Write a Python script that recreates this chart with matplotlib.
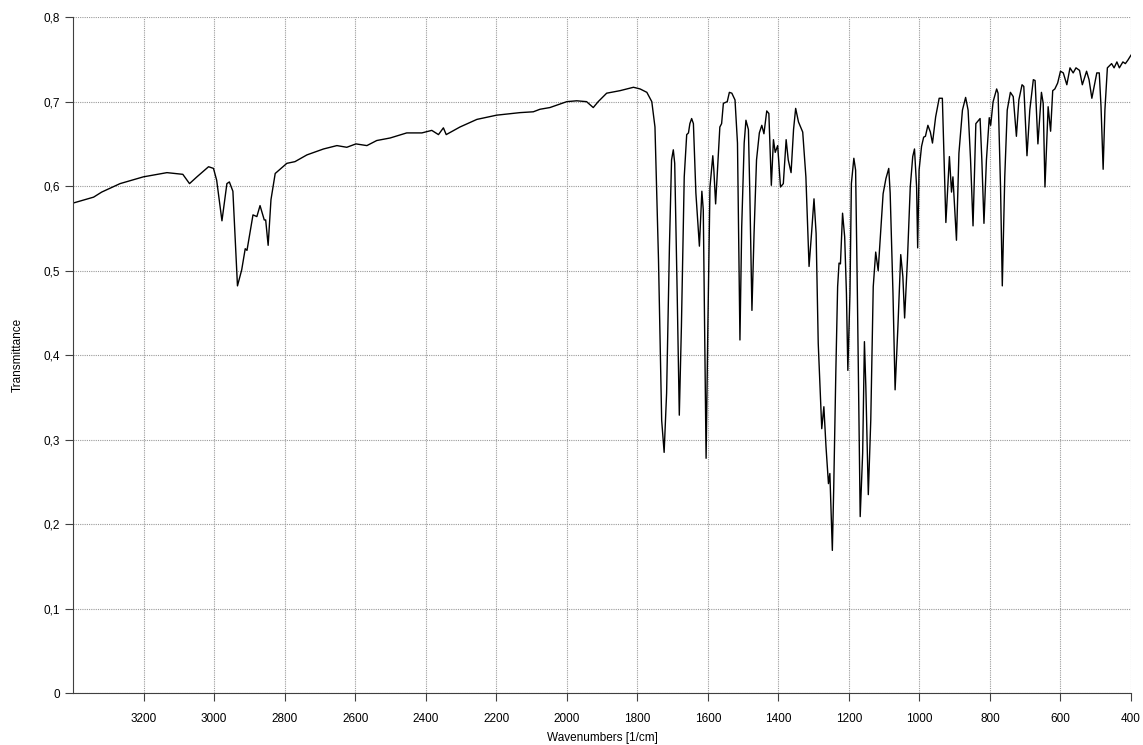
import matplotlib
matplotlib.use("Agg")
import matplotlib.pyplot as plt
from matplotlib.ticker import FuncFormatter

plt.rcParams['font.family'] = ['Liberation Sans', 'DejaVu Sans']

# spectrum (wavenumber [1/cm], transmittance)
wavenumber = [
    3400, 3342, 3319, 3267, 3201, 3134, 3089, 3070, 3049, 3016, 3002, 2993,
    2978, 2964, 2957, 2947, 2934, 2922, 2912, 2907, 2890, 2879, 2870, 2858,
    2854, 2847, 2839, 2827, 2794, 2771, 2737, 2690, 2652, 2624, 2598, 2567,
    2539, 2501, 2454, 2411, 2383, 2364, 2350, 2342, 2303, 2255, 2199, 2133,
    2095, 2076, 2048, 2000, 1972, 1944, 1925, 1911, 1887, 1849, 1811, 1792,
    1773, 1759, 1750, 1740, 1731, 1724, 1717, 1709, 1703, 1698, 1694, 1687,
    1681, 1675, 1667, 1660, 1655, 1651, 1646, 1641, 1634, 1624, 1617, 1613,
    1608, 1605, 1600, 1594, 1586, 1583, 1578, 1571, 1566, 1561, 1556, 1545,
    1539, 1532, 1523, 1516, 1509, 1504, 1497, 1492, 1485, 1481, 1475, 1469,
    1462, 1454, 1447, 1441, 1433, 1427, 1420, 1414, 1409, 1402, 1394, 1386,
    1378, 1372, 1364, 1357, 1351, 1343, 1331, 1322, 1313, 1306, 1299, 1293,
    1287, 1277, 1271, 1265, 1258, 1254, 1252, 1247, 1243, 1237, 1232, 1228,
    1224, 1218, 1212, 1207, 1203, 1197, 1193, 1186, 1181, 1176, 1168, 1161,
    1156, 1152, 1145, 1138, 1131, 1124, 1117, 1103, 1095, 1087, 1083, 1075,
    1069, 1061, 1053, 1047, 1042, 1034, 1026, 1019, 1014, 1008, 1005, 1001,
    994, 988, 983, 976, 969, 963, 954, 944, 935, 930, 925, 915, 909, 905,
    895, 888, 878, 869, 862, 855, 848, 840, 828, 823, 817, 810, 802, 798,
    791, 781, 777, 770, 765, 758, 751, 742, 734, 725, 718, 709, 704, 695,
    687, 677, 672, 664, 654, 649, 644, 635, 628, 622, 616, 608, 600, 592,
    582, 573, 564, 556, 546, 538, 526, 519, 511, 497, 490, 485, 479, 474,
    467, 455, 448, 440, 433, 423, 416, 409, 400,
]
transmittance = [
    0.580, 0.587, 0.593, 0.603, 0.611, 0.616, 0.614, 0.603, 0.611, 0.623, 0.621, 0.607,
    0.559, 0.603, 0.605, 0.594, 0.482, 0.501, 0.526, 0.524, 0.566, 0.564, 0.577, 0.560,
    0.560, 0.530, 0.584, 0.615, 0.627, 0.629, 0.637, 0.644, 0.648, 0.646, 0.650, 0.648,
    0.654, 0.657, 0.663, 0.663, 0.666, 0.661, 0.669, 0.661, 0.670, 0.679, 0.684, 0.687,
    0.688, 0.691, 0.693, 0.700, 0.701, 0.700, 0.693, 0.700, 0.710, 0.713, 0.717, 0.715,
    0.711, 0.700, 0.670, 0.513, 0.323, 0.285, 0.355, 0.528, 0.631, 0.643, 0.627, 0.473,
    0.329, 0.434, 0.611, 0.661, 0.663, 0.674, 0.680, 0.674, 0.592, 0.529, 0.594, 0.572,
    0.394, 0.278, 0.434, 0.599, 0.636, 0.619, 0.579, 0.631, 0.670, 0.674, 0.698, 0.700,
    0.711, 0.710, 0.702, 0.651, 0.418, 0.552, 0.651, 0.678, 0.667, 0.592, 0.453, 0.544,
    0.631, 0.663, 0.672, 0.662, 0.689, 0.686, 0.601, 0.655, 0.640, 0.648, 0.599, 0.603,
    0.655, 0.631, 0.616, 0.667, 0.692, 0.676, 0.664, 0.611, 0.505, 0.544, 0.585, 0.544,
    0.414, 0.313, 0.339, 0.292, 0.248, 0.260, 0.233, 0.169, 0.244, 0.382, 0.481, 0.509,
    0.508, 0.568, 0.540, 0.473, 0.382, 0.473, 0.603, 0.633, 0.619, 0.473, 0.209, 0.284,
    0.416, 0.363, 0.235, 0.323, 0.481, 0.522, 0.500, 0.591, 0.609, 0.621, 0.592, 0.473,
    0.359, 0.434, 0.519, 0.493, 0.444, 0.513, 0.599, 0.635, 0.644, 0.599, 0.527, 0.619,
    0.647, 0.658, 0.659, 0.672, 0.664, 0.651, 0.682, 0.704, 0.704, 0.631, 0.557, 0.635, 0.593, 0.611,
    0.536, 0.639, 0.690, 0.705, 0.690, 0.631, 0.553, 0.674, 0.680, 0.631, 0.556, 0.631, 0.681, 0.672,
    0.700, 0.715, 0.710, 0.599, 0.482, 0.611, 0.690, 0.711, 0.706, 0.659, 0.702, 0.720, 0.718, 0.636,
    0.690, 0.726, 0.725, 0.650, 0.711, 0.698, 0.599, 0.694, 0.665, 0.713, 0.715, 0.722, 0.736, 0.734,
    0.720, 0.740, 0.734, 0.740, 0.737, 0.720, 0.736, 0.726, 0.704, 0.734, 0.734, 0.694, 0.620, 0.690,
    0.740, 0.745, 0.740, 0.747, 0.740, 0.747, 0.745, 0.749, 0.755,
]

x_ticks = list(range(3200, 399, -200))
y_ticks = [0, 0.1, 0.2, 0.3, 0.4, 0.5, 0.6, 0.7, 0.8]

fig = plt.figure(figsize=(11.43, 7.45), dpi=100)
ax = fig.add_axes([0.064, 0.0695, 0.9255, 0.9075])

ax.plot(wavenumber, transmittance, color="black", linewidth=1.0)

ax.set_xlim(3400, 400)
ax.set_ylim(0, 0.8)
ax.set_xticks(x_ticks)
ax.set_yticks(y_ticks)
ax.yaxis.set_major_formatter(FuncFormatter(lambda v, p: "0" if v == 0 else f"{v:.1f}".replace(".", ",")))

ax.grid(True, color="#9a9a9a", linestyle=(0, (1, 1)), linewidth=0.8)
ax.spines["top"].set_visible(False)
ax.spines["right"].set_visible(False)
ax.spines["left"].set_color("#404040")
ax.spines["bottom"].set_color("#404040")
ax.tick_params(axis="both", direction="out", length=6, labelsize=8.5, color="#404040")
ax.tick_params(axis="x", pad=8)

ax.set_xlabel("Wavenumbers [1/cm]", fontsize=8.5, labelpad=5)
ax.set_ylabel("Transmittance", fontsize=8.5, labelpad=14)

plt.savefig("out.png", dpi=100)
